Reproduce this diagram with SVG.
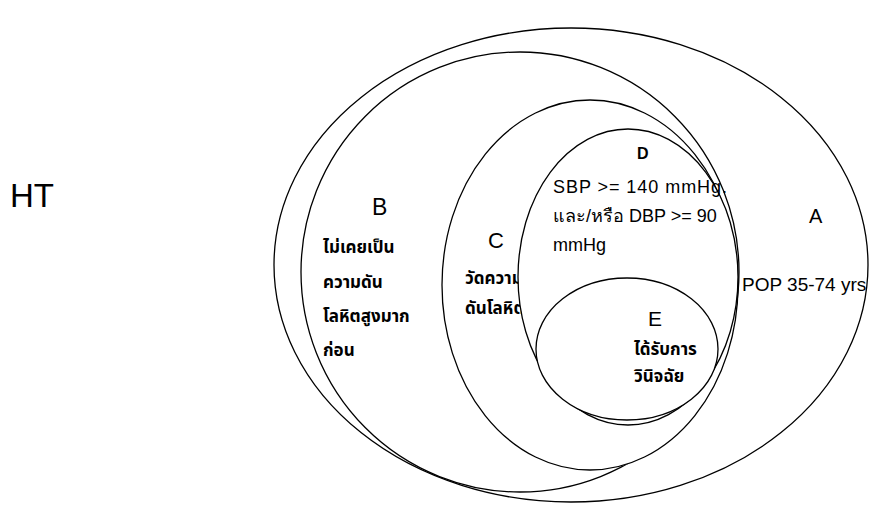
<svg xmlns="http://www.w3.org/2000/svg" width="875" height="507" viewBox="0 0 875 507">
<style>
.ring{fill:#fff;stroke:#000;stroke-width:1.3}
.lbl{font-family:"Liberation Sans","Noto Sans",sans-serif;fill:#000}
.th{font-family:"Noto Sans Thai","Noto Sans","DejaVu Sans",sans-serif;font-weight:bold;fill:#000;font-size:17px}
.tx{font-family:"Liberation Sans","Noto Sans",sans-serif;fill:#000;font-size:18px}
</style>
<rect width="875" height="507" fill="#fff"/>
<g id="title"><text class="lbl" x="10" y="207" font-size="33">HT</text></g>
<g id="A">
<ellipse class="ring" cx="571" cy="265" rx="297" ry="237"/>
<text class="lbl" x="809" y="223" font-size="20">A</text>
<text class="lbl" x="742" y="291" font-size="19">POP 35-74 yrs</text>
</g>
<g id="B">
<ellipse class="ring" cx="520" cy="272" rx="219" ry="220"/>
<text class="lbl" x="372" y="215" font-size="23">B</text>
<text class="th" x="323" y="253">ไม่เคยเป็น</text>
<text class="th" x="323" y="288">ความดัน</text>
<text class="th" x="323" y="322">โลหิตสูงมาก</text>
<text class="th" x="323" y="356">ก่อน</text>
</g>
<g id="C">
<ellipse class="ring" cx="590" cy="285" rx="148" ry="185"/>
<text class="lbl" x="488" y="248" font-size="22">C</text>
<text class="th" x="465" y="284">วัดความ</text>
<text class="th" x="465" y="314">ดันโลหิต</text>
</g>
<g id="D">
<ellipse class="ring" cx="628" cy="277" rx="110" ry="148"/>
<text class="lbl" x="637" y="159" font-size="16" font-weight="bold">D</text>
<text class="tx" x="553" y="193" textLength="174" lengthAdjust="spacing">SBP &gt;= 140 mmHg.</text>
<text class="tx" x="553" y="222">และ/หรือ DBP &gt;= 90</text>
<text class="tx" x="553" y="251">mmHg</text>
</g>
<g id="E">
<ellipse class="ring" cx="627" cy="349" rx="91" ry="71"/>
<text class="lbl" x="648" y="326" font-size="21">E</text>
<text class="th" x="634" y="355" font-size="16">ได้รับการ</text>
<text class="th" x="634" y="382" font-size="16">วินิจฉัย</text>
</g>
</svg>
